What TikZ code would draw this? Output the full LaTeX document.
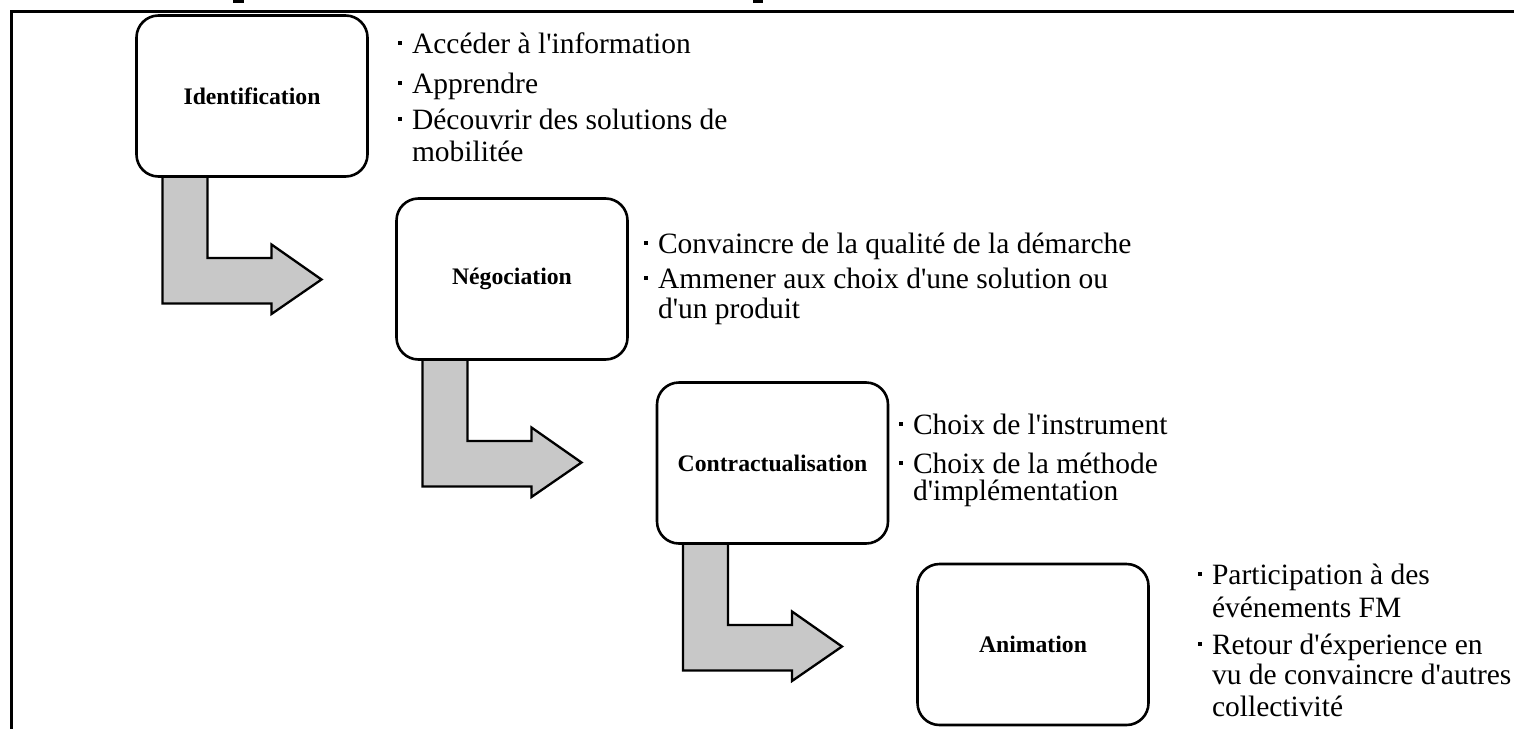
\documentclass[tikz,border=0pt]{standalone}
\usepackage{fontspec}
\setmainfont{Liberation Serif}[Ligatures=TeXOff]
\usetikzlibrary{calc}
\definecolor{arrowgray}{RGB}{200,200,200}
\newcommand\bulmark{\llap{\rule[8.5pt]{3.5pt}{3.5pt}\hspace{10.5pt}}}
\begin{document}
\begin{tikzpicture}[x=1pt, y=-1pt,
  stagebox/.style={draw, line width=2.6pt, rounded corners=22pt, fill=white,
    minimum width=231pt, minimum height=161pt, inner sep=0pt, outer sep=0pt,
    font=\fontsize{23.7}{26}\selectfont\bfseries},
  item/.style={anchor=base west, inner sep=0pt, outer sep=0pt,
    font=\fontsize{29.5}{32}\selectfont},
  bentarrow/.pic={
    \filldraw[fill=arrowgray, draw=black, line width=2.3pt]
      (0,0) -- (0,127) -- (109,127) -- (109,137.5) -- (159,103)
      -- (109,68) -- (109,81.5) -- (45,81.5) -- (45,0) -- cycle;
  }]
\useasboundingbox (0,0) rectangle (1514,728);
% frame and cut-off marks at the top
\draw[line width=3pt] (11,11) rectangle (1540,760);
\fill (233,0) rectangle (244,3);
\fill (753,0) rectangle (763,3);

% box positions
\coordinate (c1) at (252,96);
\coordinate (c2) at (512,279);
\coordinate (c3) at (772.5,463);
\coordinate (c4) at (1033,644.5);

% arrows (drawn below the boxes)
\pic at ($(c1)+(-89.5,80.5)$) {bentarrow};
\pic at ($(c2)+(-89.5,80.5)$) {bentarrow};
\pic at ($(c3)+(-89.5,80.5)$) {bentarrow};

% boxes
\node[stagebox] (b1) at (c1) {Identification};
\node[stagebox] (b2) at (c2) {Négociation};
\node[stagebox] (b3) at (c3) {Contractualisation};
\node[stagebox] (b4) at (c4) {Animation};

% group 1
\node[item] (t1a) at (412,53) {\bulmark Accéder à l'information};
\node[item] (t1b) at (412,93) {\bulmark Apprendre};
\node[item] (t1c) at (412,129) {\bulmark Découvrir des solutions de};
\node[item] (t1d) at (412,161) {mobilitée};

% group 2
\node[item] (t2a) at (658,253) {\bulmark Convaincre de la qualité de la démarche};
\node[item] (t2b) at (658,288) {\bulmark Ammener aux choix d'une solution ou};
\node[item] (t2c) at (658,318) {d'un produit};

% group 3
\node[item] (t3a) at (913,434) {\bulmark Choix de l'instrument};
\node[item] (t3b) at (913,473) {\bulmark Choix de la méthode};
\node[item] (t3c) at (913,500) {d'implémentation};

% group 4
\node[item] (t4a) at (1212,584) {\bulmark Participation à des};
\node[item] (t4b) at (1212,617) {événements FM};
\node[item] (t4c) at (1212,654) {\bulmark Retour d'éxperience en};
\node[item] (t4d) at (1212,684) {vu de convaincre d'autres};
\node[item] (t4e) at (1212,716) {collectivité};
\end{tikzpicture}
\end{document}
